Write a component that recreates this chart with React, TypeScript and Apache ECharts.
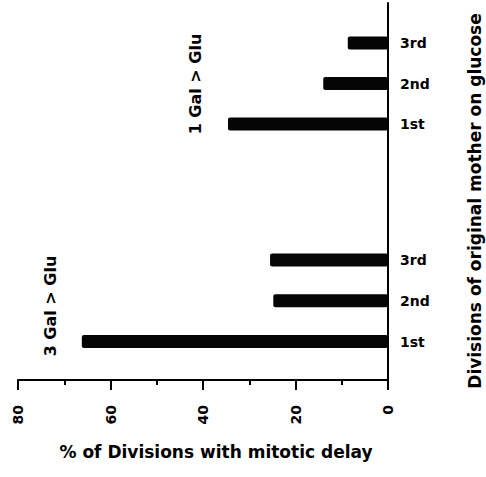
import React, { useEffect, useRef } from 'react';
import * as echarts from 'echarts';

const divisions = ['1st', '2nd', '3rd'];
const oneGalValues = [34.6, 14.0, 8.7];
const threeGalValues = [66.2, 24.8, 25.5];
const xMin = 0;
const xMax = 80;
const xInterval = 20;
const xName = '% of Divisions with mitotic delay';
const yName = 'Divisions of original mother on glucose';
const groupLabels = ['1 Gal > Glu', '3 Gal > Glu'];

const FONT = '"DejaVu Sans", "Liberation Sans", Arial, sans-serif';

export default function App() {
  const ref = useRef<HTMLDivElement>(null);
  useEffect(() => {
    if (!ref.current) return;
    const chart = echarts.init(ref.current, undefined, { renderer: 'svg' });
    const txt = { fontFamily: FONT, fontWeight: 'bold' as const, color: '#000' };
    const hiddenX = (gridIndex: number) => ({
      gridIndex,
      type: 'value' as const,
      min: xMin,
      max: xMax,
      inverse: true,
      show: false,
    });
    const catY = (gridIndex: number) => ({
      gridIndex,
      type: 'category' as const,
      data: divisions,
      position: 'right' as const,
      axisLine: { show: false },
      axisTick: { show: false },
      splitLine: { show: false },
      axisLabel: { ...txt, fontSize: 14, margin: 12 },
    });
    chart.setOption({
      animation: false,
      grid: [
        { left: 18, right: 98, top: 3, bottom: 97 },
        { left: 18, right: 98, top: 22.75, bottom: 332.75 },
        { left: 18, right: 98, top: 239.6, bottom: 115.1 },
      ],
      xAxis: [
        {
          gridIndex: 0,
          type: 'value',
          min: xMin,
          max: xMax,
          interval: xInterval,
          inverse: true,
          position: 'bottom',
          axisLine: { show: true, onZero: false, lineStyle: { color: '#000', width: 2 } },
          axisTick: { show: true, length: 10, lineStyle: { color: '#000', width: 2 } },
          minorTick: { show: true, splitNumber: 2, length: 5, lineStyle: { color: '#000', width: 2 } },
          splitLine: { show: false },
          minorSplitLine: { show: false },
          axisLabel: { ...txt, fontSize: 14, rotate: 90, margin: 25 },
        },
        hiddenX(1),
        hiddenX(2),
      ],
      yAxis: [
        {
          gridIndex: 0,
          type: 'value',
          position: 'right',
          axisLine: { show: true, onZero: false, lineStyle: { color: '#000', width: 2 } },
          axisTick: { show: false },
          axisLabel: { show: false },
          splitLine: { show: false },
        },
        catY(1),
        catY(2),
      ],
      series: [
        {
          type: 'bar',
          xAxisIndex: 1,
          yAxisIndex: 1,
          data: oneGalValues,
          barWidth: 13,
          itemStyle: { color: '#050505', borderRadius: 2 },
        },
        {
          type: 'bar',
          xAxisIndex: 2,
          yAxisIndex: 2,
          data: threeGalValues,
          barWidth: 13,
          itemStyle: { color: '#050505', borderRadius: 2 },
        },
      ],
      graphic: [
        {
          type: 'text',
          x: 475,
          y: 201,
          rotation: Math.PI / 2,
          style: { text: yName, font: `bold 17px ${FONT}`, fill: '#000', align: 'center', verticalAlign: 'middle' },
        },
        {
          type: 'text',
          x: 216,
          y: 452,
          style: { text: xName, font: `bold 17px ${FONT}`, fill: '#000', align: 'center', verticalAlign: 'middle' },
        },
        {
          type: 'text',
          x: 195,
          y: 84,
          rotation: Math.PI / 2,
          style: { text: groupLabels[0], font: `bold 16px ${FONT}`, fill: '#000', align: 'center', verticalAlign: 'middle' },
        },
        {
          type: 'text',
          x: 50,
          y: 306,
          rotation: Math.PI / 2,
          style: { text: groupLabels[1], font: `bold 16px ${FONT}`, fill: '#000', align: 'center', verticalAlign: 'middle' },
        },
      ],
    });
    return () => chart.dispose();
  }, []);
  return (
    <div
      ref={ref}
      style={{ position: 'absolute', left: 0, top: 0, width: 486, height: 477, background: '#fff' }}
    />
  );
}
